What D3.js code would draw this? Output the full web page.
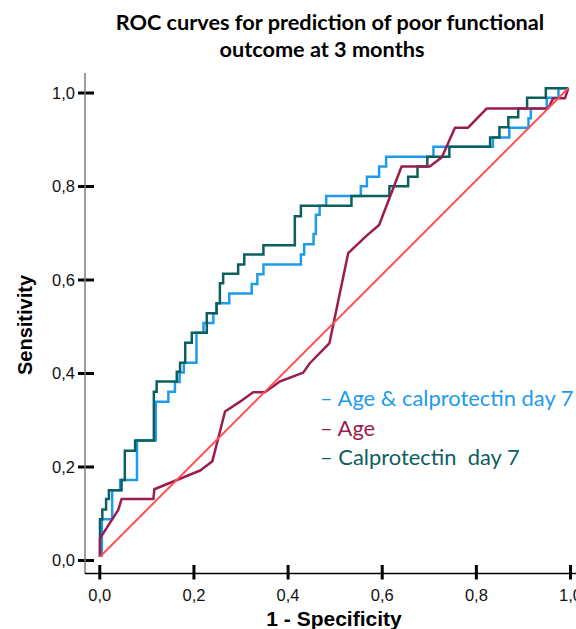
<!DOCTYPE html>
<html>
<head>
<meta charset="utf-8">
<script src="https://cdnjs.cloudflare.com/ajax/libs/d3/7.8.5/d3.min.js"></script>
<style>
  body { margin: 0; background: #fff; }
</style>
</head>
<body>
<svg id="chart" width="576" height="629"></svg>
<script>
// tick values and labels (comma decimals as in the original)
var tickValues = [0, 0.2, 0.4, 0.6, 0.8, 1.0];
var tickLabels = ["0,0", "0,2", "0,4", "0,6", "0,8", "1,0"];

var seriesNames = ["Age & calprotectin day 7", "Age", "Calprotectin  day 7"];
var seriesColors = ["#1e9be9", "#9b1c50", "#0b5f5f"];

// ROC points [1 - specificity, sensitivity]; step curves rise at x then run right
var comboRoc = [
  [0.004, 0], [0.026, 0.080], [0.043, 0.142], [0.079, 0.164], [0.119, 0.248],
  [0.146, 0.331], [0.160, 0.352], [0.170, 0.373], [0.179, 0.393], [0.206, 0.414],
  [0.221, 0.478], [0.242, 0.499], [0.249, 0.520], [0.276, 0.541], [0.324, 0.562],
  [0.336, 0.582], [0.349, 0.603], [0.429, 0.624], [0.436, 0.645], [0.456, 0.667],
  [0.461, 0.689], [0.469, 0.730], [0.483, 0.749], [0.557, 0.770], [0.570, 0.791],
  [0.596, 0.811], [0.611, 0.833], [0.712, 0.854], [0.839, 0.875], [0.874, 0.895],
  [0.915, 0.916], [0.920, 0.936], [0.954, 0.957], [0.979, 0.980], [1.0, 1.0]
];

var calproRoc = [
  [0, 0], [0.005, 0.080], [0.013, 0.101], [0.019, 0.123], [0.046, 0.142],
  [0.053, 0.164], [0.075, 0.226], [0.115, 0.248], [0.121, 0.352], [0.164, 0.374],
  [0.171, 0.395], [0.182, 0.414], [0.196, 0.457], [0.228, 0.478], [0.249, 0.520],
  [0.256, 0.541], [0.263, 0.584], [0.295, 0.604], [0.308, 0.624], [0.349, 0.645],
  [0.416, 0.665], [0.429, 0.727], [0.537, 0.749], [0.618, 0.770], [0.658, 0.791],
  [0.678, 0.811], [0.699, 0.833], [0.746, 0.854], [0.833, 0.875], [0.853, 0.895],
  [0.872, 0.917], [0.893, 0.938], [0.912, 0.957], [0.952, 0.980], [1.0, 1.0]
];

// age curve is joined with straight segments
var ageRoc = [
  [0, 0], [0, 0.039], [0.039, 0.100], [0.046, 0.123], [0.114, 0.123],
  [0.116, 0.144], [0.214, 0.184], [0.240, 0.204], [0.267, 0.310], [0.299, 0.331],
  [0.327, 0.351], [0.352, 0.351], [0.384, 0.374], [0.434, 0.393], [0.448, 0.413],
  [0.490, 0.456], [0.530, 0.648], [0.570, 0.686], [0.596, 0.708], [0.644, 0.833],
  [0.704, 0.833], [0.730, 0.853], [0.758, 0.916], [0.786, 0.916], [0.826, 0.957],
  [0.957, 0.957], [0.968, 0.979], [0.993, 0.979], [1, 1]
];

var reference = [[0, 0], [1, 1]];

var svg = d3.select("#chart");

// axis frame
var x = d3.scaleLinear().domain([0, 1]).range([99.3, 570]),
    y = d3.scaleLinear().domain([0, 1]).range([560, 92.5]);

// the curve panel sits a few px off the axis frame in the original figure
var xc = d3.scaleLinear().domain([0, 1]).range([100, 568.3]),
    yc = d3.scaleLinear().domain([0, 1]).range([556.7, 88.3]);

// title
svg.append("text")
    .attr("x", 330).attr("y", 30)
    .attr("text-anchor", "middle")
    .style("font-family", "Lato, 'Open Sans', sans-serif")
    .style("font-weight", "bold")
    .style("font-size", "21.7px")
    .text("ROC curves for prediction of poor functional");
svg.append("text")
    .attr("x", 322).attr("y", 57)
    .attr("text-anchor", "middle")
    .style("font-family", "Lato, 'Open Sans', sans-serif")
    .style("font-weight", "bold")
    .style("font-size", "21.7px")
    .text("outcome at 3 months");

// y axis
var yAxis = svg.append("g").attr("transform", "translate(85,0)")
    .call(d3.axisLeft(y).tickValues(tickValues)
      .tickFormat(function(d, i) { return tickLabels[i]; })
      .tickSizeInner(7).tickSizeOuter(0).tickPadding(3));
yAxis.select(".domain").remove();
yAxis.append("line")
    .attr("x1", 0).attr("x2", 0).attr("y1", 73).attr("y2", 573.5)
    .attr("stroke", "#7a7a7a").attr("stroke-width", 1.5);
yAxis.selectAll(".tick line")
    .attr("x1", 9).attr("x2", -7)
    .attr("stroke", "#000").attr("stroke-width", 3);
yAxis.selectAll(".tick text")
    .attr("dy", "0.36em")
    .style("font-family", "'Liberation Sans', Arial, sans-serif")
    .style("font-size", "16.5px")
    .attr("fill", "#111");

// x axis
var xAxis = svg.append("g").attr("transform", "translate(0,573.5)")
    .call(d3.axisBottom(x).tickValues(tickValues)
      .tickFormat(function(d, i) { return tickLabels[i]; })
      .tickSizeInner(6).tickSizeOuter(0).tickPadding(10));
xAxis.select(".domain").remove();
xAxis.append("line")
    .attr("x1", 85).attr("x2", 576).attr("y1", 0).attr("y2", 0)
    .attr("stroke", "#000").attr("stroke-width", 1.5);
xAxis.selectAll(".tick line")
    .attr("y1", -8.5).attr("y2", 6)
    .attr("stroke", "#000").attr("stroke-width", 3);
xAxis.selectAll(".tick text")
    .style("font-family", "'Liberation Sans', Arial, sans-serif")
    .style("font-size", "16.5px")
    .attr("fill", "#111");

// axis titles
svg.append("text")
    .attr("transform", "translate(32,325) rotate(-90)")
    .attr("text-anchor", "middle")
    .style("font-family", "'Liberation Sans', Arial, sans-serif")
    .style("font-weight", "bold")
    .style("font-size", "20px")
    .text("Sensitivity");
svg.append("text")
    .attr("x", 334).attr("y", 626)
    .attr("text-anchor", "middle")
    .style("font-family", "'Liberation Sans', Arial, sans-serif")
    .style("font-weight", "bold")
    .style("font-size", "21px")
    .text("1 - Specificity");

// curves
var stepLine = d3.line().x(function(d) { return xc(d[0]); }).y(function(d) { return yc(d[1]); })
    .curve(d3.curveStepBefore);
var straightLine = d3.line().x(function(d) { return xc(d[0]); }).y(function(d) { return yc(d[1]); });

svg.append("path").datum(comboRoc)
    .attr("d", stepLine).attr("fill", "none")
    .attr("stroke", seriesColors[0]).attr("stroke-width", 2.5);
svg.append("path").datum(calproRoc)
    .attr("d", stepLine).attr("fill", "none")
    .attr("stroke", seriesColors[2]).attr("stroke-width", 2.5);
svg.append("path").datum(ageRoc)
    .attr("d", straightLine).attr("fill", "none")
    .attr("stroke", seriesColors[1]).attr("stroke-width", 2.5)
    .attr("stroke-linejoin", "round");
svg.append("path").datum(reference)
    .attr("d", straightLine).attr("fill", "none")
    .attr("stroke", "#ff4f4f").attr("stroke-width", 2);

// legend
svg.selectAll(".legend")
    .data(seriesNames)
    .enter().append("text")
    .attr("class", "legend")
    .attr("x", 320)
    .attr("y", function(d, i) { return 406 + i * 29.5; })
    .attr("fill", function(d, i) { return seriesColors[i]; })
    .style("font-family", "Lato, 'Open Sans', sans-serif")
    .style("font-size", "21.9px")
    .style("white-space", "pre")
    .text(function(d) { return "\u2013 " + d; });
</script>
</body>
</html>
